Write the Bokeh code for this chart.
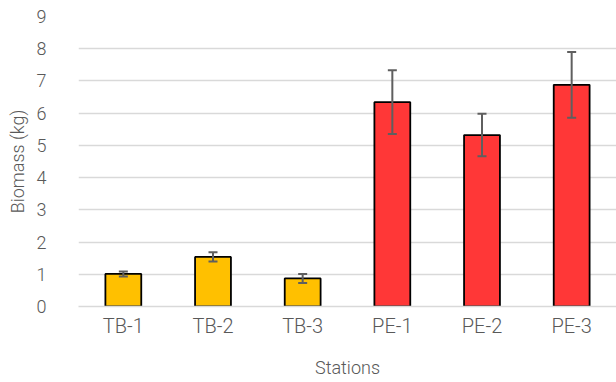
from bokeh.plotting import figure
from bokeh.models import ColumnDataSource, Whisker, TeeHead, FactorRange
from bokeh.embed import file_html
from bokeh.resources import INLINE

stations = ["TB-1", "TB-2", "TB-3", "PE-1", "PE-2", "PE-3"]
biomass = [1.01, 1.54, 0.87, 6.34, 5.32, 6.88]
errors = [0.08, 0.14, 0.14, 0.99, 0.66, 1.02]
colors = ["#FFC000", "#FFC000", "#FFC000", "#FF3737", "#FF3737", "#FF3737"]
y_ticks = [0, 1, 2, 3, 4, 5, 6, 7, 8, 9]

upper = [v + e for v, e in zip(biomass, errors)]
lower = [v - e for v, e in zip(biomass, errors)]
src = ColumnDataSource(dict(x=stations, top=biomass, upper=upper, lower=lower, color=colors))

FONT = "Roboto Light, Roboto"
TXT = "#595959"

p = figure(x_range=FactorRange(*stations), y_range=(0, 9), width=616, height=382,
           output_backend="svg", toolbar_location=None,
           min_border_left=78, min_border_right=0, min_border_top=16, min_border_bottom=76)
p.outline_line_color = None

p.vbar(x="x", top="top", width=0.4, source=src, fill_color="color",
       line_color="#000000", line_width=1.8)

w = Whisker(base="x", upper="upper", lower="lower", source=src, level="overlay",
            line_color="#5F5F5F", line_width=2,
            upper_head=TeeHead(size=9, line_color="#5F5F5F", line_width=2),
            lower_head=TeeHead(size=9, line_color="#5F5F5F", line_width=2))
p.add_layout(w)

p.xgrid.grid_line_color = None
p.ygrid.grid_line_color = "#D9D9D9"
p.ygrid.grid_line_width = 1.5
p.yaxis.ticker = y_ticks

for ax in (p.xaxis[0], p.yaxis[0]):
    ax.major_tick_line_color = None
    ax.minor_tick_line_color = None
    ax.major_label_text_font = FONT
    ax.major_label_text_color = TXT
    ax.axis_label_text_font = FONT
    ax.axis_label_text_color = TXT
    ax.axis_label_text_font_style = "normal"
    ax.axis_label_text_font_size = "18px"

p.yaxis.axis_line_color = None
p.yaxis.major_label_text_font_size = "18px"
p.yaxis.major_label_standoff = 26
p.yaxis.axis_label = "Biomass (kg)"
p.yaxis.axis_label_standoff = 6

p.xaxis.axis_line_color = "#D9D9D9"
p.xaxis.axis_line_width = 1.5
p.xaxis.major_label_text_font_size = "20px"
p.xaxis.major_label_standoff = 1
p.xaxis.axis_label = "Stations"
p.xaxis.axis_label_standoff = 16

open("out.html", "w").write(file_html(p, INLINE))
